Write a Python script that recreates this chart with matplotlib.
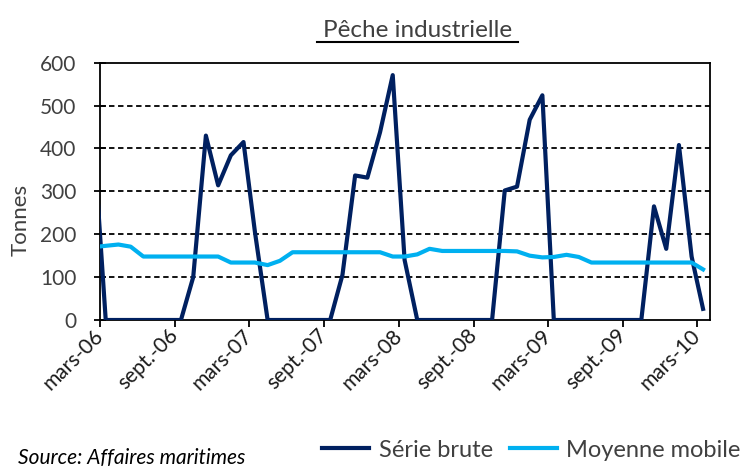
import matplotlib
matplotlib.use("Agg")
import matplotlib.pyplot as plt
import matplotlib.transforms as mtransforms
import pandas as pd

# -- data, one point per month, plotted mid-month
months = pd.date_range("2006-02-01", periods=50, freq="MS") + pd.Timedelta(days=14)

serie_brute = [400, 0, 0, 0, 0, 0, 0, 0, 100, 430, 314, 384, 415,
               205, 0, 0, 0, 0, 0, 0, 105, 337, 332, 438, 571,
               140, 0, 0, 0, 0, 0, 0, 0, 302, 311, 467, 524,
               0, 0, 0, 0, 0, 0, 0, 0, 265, 166, 408, 148,
               26]

moyenne_mobile = [170, 173, 176, 171, 148, 148, 148, 148, 148, 148, 148, 134, 134,
                  134, 128, 138, 158, 158, 158, 158, 158, 158, 158, 158, 148,
                  148, 153, 166, 161, 161, 161, 161, 161, 161, 160, 150, 146,
                  147, 152, 147, 134, 134, 134, 134, 134, 134, 134, 134, 134,
                  118]

tick_dates = pd.date_range("2006-03-01", "2010-03-01", freq="6MS")
tick_labels = ["mars-06", "sept.-06", "mars-07", "sept.-07", "mars-08",
               "sept.-08", "mars-09", "sept.-09", "mars-10"]

dark_blue = "#002060"
light_blue = "#00B0F0"
grey_txt = "#404040"

plt.rcParams['font.family'] = ['Lato', 'DejaVu Sans']

fig = plt.figure(figsize=(7.53, 4.69), dpi=100)
ax = fig.add_axes([100 / 753, 149 / 469, 610 / 753, 257.3 / 469])

ax.plot(months, serie_brute, color=dark_blue, lw=3, label="Série brute", zorder=3)
ax.plot(months, moyenne_mobile, color=light_blue, lw=3, label="Moyenne mobile", zorder=3)

ax.set_xlim(pd.Timestamp("2006-03-01"), pd.Timestamp("2010-04-01"))
ax.set_ylim(0, 600)
ax.set_yticks(range(0, 601, 100))
ax.set_xticks(tick_dates)
ax.set_xticklabels(tick_labels, rotation=45, ha="right", va="center",
                   rotation_mode="anchor")
shift = mtransforms.ScaledTranslation(11 / 100, -20 / 100, fig.dpi_scale_trans)
for lab in ax.get_xticklabels():
    lab.set_transform(lab.get_transform() + shift)

for y in range(100, 600, 100):
    ax.axhline(y, color="black", lw=1.3, ls=(0, (3, 2)), zorder=1)

for s in ax.spines.values():
    s.set_linewidth(1.3)
    s.set_color("black")

ax.tick_params(axis="y", direction="inout", length=8, width=1.3, labelsize=15,
               labelcolor=grey_txt, pad=13)
ax.tick_params(axis="x", direction="out", length=5, width=1.3, labelsize=15,
               labelcolor="#1a1a1a", pad=4)

ax.set_ylabel("Tonnes", fontsize=16, color=grey_txt)
ax.yaxis.set_label_coords(-0.114, 0.39)

fig.text(418 / 753, 1 - 30 / 469, "Pêche industrielle", ha="center", va="center",
         fontsize=17.5, color=grey_txt)
# underline of the title
fig.add_artist(plt.Line2D([317 / 753, 518 / 753], [1 - 42 / 469, 1 - 42 / 469],
                          color="black", lw=1.5))

fig.text(18 / 753, 1 - 458 / 469, "Source: Affaires maritimes", ha="left", va="center",
         fontsize=15, style="italic", color="black")

fig.legend(loc="center right", bbox_to_anchor=(750 / 753, 1 - 450 / 469), ncol=2,
           frameon=False, fontsize=17, handlelength=2.0, handletextpad=0.4,
           columnspacing=0.7, labelcolor=grey_txt, borderaxespad=0)

fig.savefig("out.png", dpi=100)
